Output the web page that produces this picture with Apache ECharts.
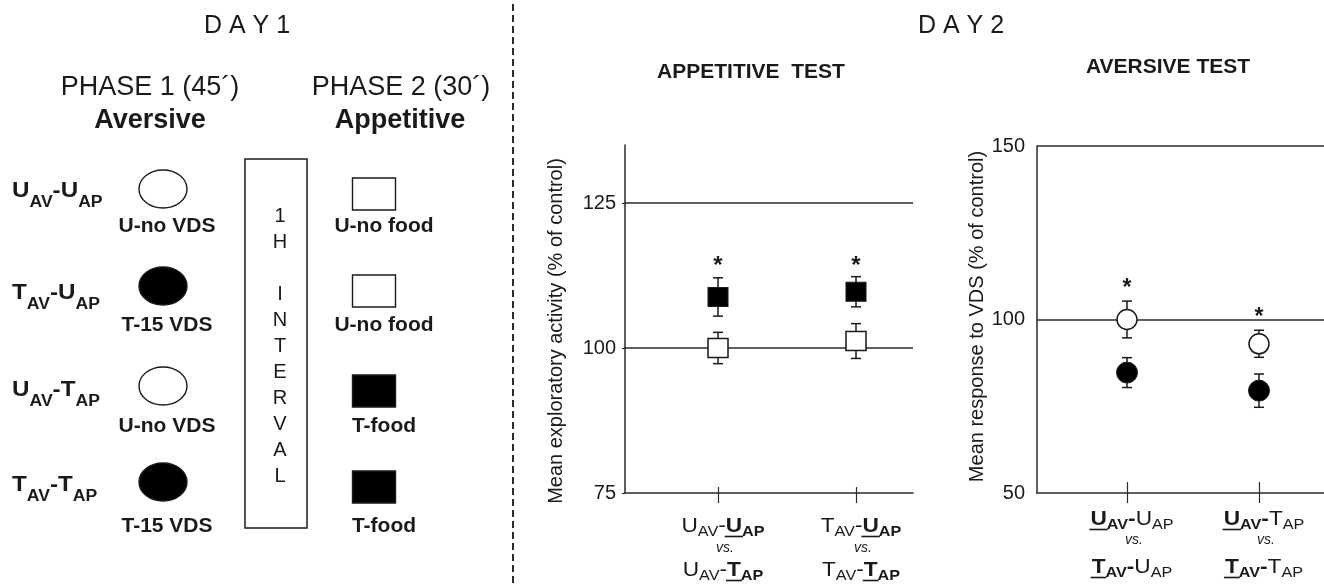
<!DOCTYPE html>
<html>
<head>
<meta charset="utf-8">
<script src="https://cdn.jsdelivr.net/npm/echarts@6/dist/echarts.min.js"></script>
<style>
  html, body { margin: 0; padding: 0; background: #fff; }
  #chart { width: 1324px; height: 585px; }
</style>
</head>
<body>
<div id="chart"></div>
<script>
// ---------- Day 2 results: group means and SEM (% of control) ----------
const catPos = [1, 2];                 // comparison pairs along the x axis
const appYTicks = [75, 100, 125];
const avYTicks = [50, 100, 150];
const appRefLines = [100, 125];
const avRefLines = [100, 150];

const appTrainedMean = [108.8, 109.7];   // filled squares (T_AP)
const appTrainedSem = [3.3, 2.6];
const appUntrainedMean = [100.0, 101.2]; // open squares (U_AP)
const appUntrainedSem = [2.7, 3.0];
const appStarLevel = [115.0, 115.0];

const avUntrainedMean = [100.0, 93.0];   // open circles (U_AV)
const avUntrainedSem = [5.3, 3.9];
const avTrainedMean = [84.7, 79.5];      // filled circles (T_AV)
const avTrainedSem = [4.3, 4.8];
const avStarLevel = [110.3, 102.0];

// comparison labels: [text, style] with r=regular, b=bold, u=underlined, s=subscript
const appCatLabels = [
  [[['U','r'],['AV','rs'],['-','r'],['U','bu'],['AP','bs']], 'vs.', [['U','r'],['AV','rs'],['-','r'],['T','bu'],['AP','bs']]],
  [[['T','r'],['AV','rs'],['-','r'],['U','bu'],['AP','bs']], 'vs.', [['T','r'],['AV','rs'],['-','r'],['T','bu'],['AP','bs']]]
];
const avCatLabels = [
  [[['U','bu'],['AV','bs'],['-','b'],['U','r'],['AP','rs']], 'vs.', [['T','bu'],['AV','bs'],['-','b'],['U','r'],['AP','rs']]],
  [[['U','bu'],['AV','bs'],['-','b'],['T','r'],['AP','rs']], 'vs.', [['T','bu'],['AV','bs'],['-','b'],['T','r'],['AP','rs']]]
];

// ---------- Day 1 protocol ----------
const groupLabels = [
  [['U','b'],['AV','bs'],['-','b'],['U','b'],['AP','bs']],
  [['T','b'],['AV','bs'],['-','b'],['U','b'],['AP','bs']],
  [['U','b'],['AV','bs'],['-','b'],['T','b'],['AP','bs']],
  [['T','b'],['AV','bs'],['-','b'],['T','b'],['AP','bs']]
];
const aversiveTraining = ['U-no VDS', 'T-15 VDS', 'U-no VDS', 'T-15 VDS'];
const aversiveFilled = [false, true, false, true];
const appetitiveTraining = ['U-no food', 'U-no food', 'T-food', 'T-food'];
const appetitiveFilled = [false, false, true, true];
const intervalText = ['1', 'H', '', 'I', 'N', 'T', 'E', 'R', 'V', 'A', 'L'];

// ---------- styling ----------
const FAM = '"Liberation Sans", Arial, Helvetica, sans-serif';
const INK = '#1a1a1a';
const LINE = '#2a2a2a';
const appXExt = { min: 0.326, max: 2.413 };
const avXExt = { min: 0.318, max: 2.644 };

const chart = echarts.init(document.getElementById('chart'), null, { renderer: 'canvas' });

function pairs(xs, ys, es) {
  return xs.map((x, i) => es ? [x, ys[i], es[i]] : [x, ys[i]]);
}

function xAxesFor(gridIndex, ext, innerLen) {
  return [
    {
      gridIndex, type: 'value', position: 'bottom', min: ext.min, max: ext.max,
      axisLine: { show: true, onZero: false, lineStyle: { color: LINE, width: 1.5 } },
      axisTick: { show: true, inside: false, length: 10, customValues: catPos, lineStyle: { color: LINE, width: 1.2 } },
      axisLabel: { show: false }, splitLine: { show: false }
    },
    {
      gridIndex, type: 'value', position: 'bottom', min: ext.min, max: ext.max,
      axisLine: { show: false },
      axisTick: { show: true, inside: true, length: innerLen, customValues: catPos, lineStyle: { color: LINE, width: 1.2 } },
      axisLabel: { show: false }, splitLine: { show: false }
    }
  ];
}

function errorBars(params, api) {
  const x = api.value(0), m = api.value(1), e = api.value(2);
  const top = api.coord([x, m + e]);
  const bot = api.coord([x, m - e]);
  const cap = 5;
  const st = { stroke: INK, lineWidth: 1.5 };
  return {
    type: 'group',
    children: [
      { type: 'line', shape: { x1: top[0], y1: top[1], x2: bot[0], y2: bot[1] }, style: st },
      { type: 'line', shape: { x1: top[0] - cap, y1: top[1], x2: top[0] + cap, y2: top[1] }, style: st },
      { type: 'line', shape: { x1: bot[0] - cap, y1: bot[1], x2: bot[0] + cap, y2: bot[1] }, style: st }
    ]
  };
}

function stars(size) {
  return function (params, api) {
    const c = api.coord([api.value(0), api.value(1)]);
    return {
      type: 'text', x: c[0], y: c[1] + 0.21 * size,
      style: { text: '*', font: 'bold ' + size + 'px ' + FAM, fill: INK, textAlign: 'center', textVerticalAlign: 'middle', verticalAlign: 'middle' }
    };
  };
}

function refLines(values) {
  return {
    silent: true, symbol: ['none', 'none'], label: { show: false },
    lineStyle: { color: LINE, width: 1.5, type: 'solid' },
    emphasis: { disabled: true },
    data: values.map(v => ({ yAxis: v }))
  };
}

const markerStyle = (fill, bw) => ({ color: fill, borderColor: INK, borderWidth: bw, opacity: 1 });

const option = {
  animation: false,
  backgroundColor: '#fff',
  grid: [
    { left: 625, top: 145, width: 288, height: 348, outerBoundsMode: 'none', containLabel: false },
    { left: 1037, top: 146, width: 307, height: 347, outerBoundsMode: 'none', containLabel: false }
  ],
  xAxis: [].concat(xAxesFor(0, appXExt, 6), xAxesFor(1, avXExt, 11)),
  yAxis: [
    {
      gridIndex: 0, type: 'value', min: 75, max: 135, interval: 25,
      name: 'Mean exploratory activity (% of control)', nameLocation: 'middle', nameRotate: 90, nameGap: 59,
      nameTextStyle: { fontSize: 20, color: INK, fontFamily: FAM, padding: [0, 24, 0, 0] },
      axisLine: { show: true, lineStyle: { color: LINE, width: 1.5 } },
      axisTick: { show: true, length: 3, customValues: appYTicks, lineStyle: { color: LINE, width: 1.2 } },
      axisLabel: { customValues: appYTicks, formatter: v => appYTicks.indexOf(v) >= 0 ? String(v) : '', fontSize: 20, color: INK, fontFamily: FAM, margin: 9 },
      splitLine: { show: false }
    },
    {
      gridIndex: 1, type: 'value', min: 50, max: 150, interval: 50,
      name: 'Mean response to VDS (% of control)', nameLocation: 'middle', nameRotate: 90, nameGap: 49,
      nameTextStyle: { fontSize: 20, color: INK, fontFamily: FAM, padding: [0, 0, 0, 6] },
      axisLine: { show: true, lineStyle: { color: LINE, width: 1.5 } },
      axisTick: { show: false },
      axisLabel: { customValues: avYTicks, formatter: v => avYTicks.indexOf(v) >= 0 ? String(v) : '', fontSize: 20, color: INK, fontFamily: FAM, margin: 12 },
      splitLine: { show: false }
    }
  ],
  series: [
    // ----- appetitive test -----
    {
      type: 'custom', xAxisIndex: 0, yAxisIndex: 0, z: 2, renderItem: errorBars,
      encode: { x: 0, y: 1 },
      data: pairs(catPos, appTrainedMean, appTrainedSem).concat(pairs(catPos, appUntrainedMean, appUntrainedSem)),
      markLine: refLines(appRefLines)
    },
    {
      type: 'scatter', xAxisIndex: 0, yAxisIndex: 0, z: 5, symbol: 'rect', symbolSize: [20, 19],
      itemStyle: markerStyle('#000', 1), emphasis: { disabled: true },
      data: pairs(catPos, appTrainedMean)
    },
    {
      type: 'scatter', xAxisIndex: 0, yAxisIndex: 0, z: 5, symbol: 'rect', symbolSize: [20, 19],
      itemStyle: markerStyle('#fff', 1.5), emphasis: { disabled: true },
      data: pairs(catPos, appUntrainedMean)
    },
    {
      type: 'custom', xAxisIndex: 0, yAxisIndex: 0, z: 6, renderItem: stars(24),
      encode: { x: 0, y: 1 }, data: pairs(catPos, appStarLevel)
    },
    // ----- aversive test -----
    {
      type: 'custom', xAxisIndex: 2, yAxisIndex: 1, z: 2, renderItem: errorBars,
      encode: { x: 0, y: 1 },
      data: pairs(catPos, avUntrainedMean, avUntrainedSem).concat(pairs(catPos, avTrainedMean, avTrainedSem)),
      markLine: refLines(avRefLines)
    },
    {
      type: 'scatter', xAxisIndex: 2, yAxisIndex: 1, z: 5, symbol: 'circle', symbolSize: 20,
      itemStyle: markerStyle('#fff', 1.5), emphasis: { disabled: true },
      data: pairs(catPos, avUntrainedMean)
    },
    {
      type: 'scatter', xAxisIndex: 2, yAxisIndex: 1, z: 5, symbol: 'circle', symbolSize: 21,
      itemStyle: markerStyle('#000', 1), emphasis: { disabled: true },
      data: pairs(catPos, avTrainedMean)
    },
    {
      type: 'custom', xAxisIndex: 2, yAxisIndex: 1, z: 6, renderItem: stars(23),
      encode: { x: 0, y: 1 }, data: pairs(catPos, avStarLevel)
    }
  ]
};

chart.setOption(option);

// ---------- text helpers (baseline-positioned) ----------
const measureCtx = document.createElement('canvas').getContext('2d');

function txt(text, x, baseline, size, weight, align, extra) {
  return Object.assign({
    type: 'text', x: x, y: baseline - 0.3465 * size,
    style: {
      text: text, font: weight + ' ' + size + 'px ' + FAM, fill: INK,
      textAlign: align || 'center', textVerticalAlign: 'middle', verticalAlign: 'middle'
    }
  }, extra || {});
}

// one line of mixed segments (subscripts, bold, underline)
function segLine(segs, x, baseline, o) {
  const parts = segs.map(([t, code]) => {
    const bold = code[0] === 'b';
    const sub = code.slice(-1) === 's';
    const under = code.slice(-1) === 'u';
    const size = sub ? o.sub : o.main;
    const font = (bold ? 'bold ' : 'normal ') + size + 'px ' + FAM;
    measureCtx.font = font;
    const w = measureCtx.measureText(t).width * o.sx;
    return { t, font, size, sub, under, w };
  });
  const total = parts.reduce((s, p) => s + p.w, 0);
  let cx = o.align === 'left' ? x : x - total / 2;
  const out = [];
  parts.forEach(p => {
    const b = baseline + (p.sub ? o.subDrop : 0);
    out.push({
      type: 'text', x: cx, y: b - 0.3465 * p.size, scaleX: o.sx,
      style: { text: p.t, font: p.font, fill: INK, textAlign: 'left', textVerticalAlign: 'middle', verticalAlign: 'middle' }
    });
    if (p.under) {
      out.push({
        type: 'line',
        shape: { x1: cx - 1, y1: baseline + 3.5, x2: cx + p.w + 1, y2: baseline + 3.5 },
        style: { stroke: INK, lineWidth: 1.6 }
      });
    }
    cx += p.w;
  });
  return out;
}

const g = [];

// headings
g.push(txt('D A Y 1', 247, 35, 25, 'normal'));
g.push(txt('D A Y 2', 961, 35, 25, 'normal'));
g.push({ type: 'line', shape: { x1: 513, y1: 4, x2: 513, y2: 585 }, style: { stroke: LINE, lineWidth: 2, lineDash: [7, 4] } });
g.push(txt('PHASE 1 (45\u00b4)', 150, 97, 27, 'normal'));
g.push(txt('Aversive', 150, 130, 27, 'bold'));
g.push(txt('PHASE 2 (30\u00b4)', 401, 97, 27, 'normal'));
g.push(txt('Appetitive', 400, 130, 27, 'bold'));
g.push(txt('APPETITIVE  TEST', 751, 79, 21, 'bold'));
g.push(txt('AVERSIVE TEST', 1168, 74, 21, 'bold'));

// day 1 protocol rows
const rowLabelBase = [199, 301, 398, 493];
const ellipseY = [189, 286, 386, 482];
const boxY = [194, 291, 391, 487];
const rowTextBase = [233, 332, 433, 533];
groupLabels.forEach((segs, i) => {
  segLine(segs, 12, rowLabelBase[i], { main: 22, sub: 16, subDrop: 9, sx: 1.1, align: 'left' }).forEach(e => g.push(e));
  g.push({
    type: 'ellipse', shape: { cx: 163, cy: ellipseY[i], rx: 24, ry: 19 },
    style: { fill: aversiveFilled[i] ? '#000' : '#fff', stroke: INK, lineWidth: 1.4 }
  });
  g.push(txt(aversiveTraining[i], 167, rowTextBase[i], 21, 'bold'));
  g.push({
    type: 'rect', shape: { x: 374 - 21.5, y: boxY[i] - 16, width: 43, height: 32 },
    style: { fill: appetitiveFilled[i] ? '#000' : '#fff', stroke: INK, lineWidth: 1.4 }
  });
  g.push(txt(appetitiveTraining[i], 384, rowTextBase[i], 21, 'bold'));
});

// 1 h interval box
g.push({ type: 'rect', shape: { x: 245, y: 159, width: 62, height: 369 }, style: { fill: 'none', stroke: INK, lineWidth: 1.5 } });
g.push({
  type: 'text', x: 280, y: 203,
  style: {
    text: intervalText.join('\n'), font: 'normal 20px ' + FAM, fill: INK, lineHeight: 26,
    textAlign: 'center', textVerticalAlign: 'top', verticalAlign: 'top'
  }
});

// comparison labels under each x tick
function catLabels(gridIndex, yMin, labels, bases) {
  labels.forEach((lab, i) => {
    const px = chart.convertToPixel({ gridIndex: gridIndex }, [catPos[i], yMin])[0] + 5;
    const o = { main: 21, sub: 15, subDrop: 4, sx: 1.08 };
    segLine(lab[0], px, bases[0], o).forEach(e => g.push(e));
    g.push(txt(lab[1], px + 2, bases[1], 14, 'italic'));
    segLine(lab[2], px, bases[2], o).forEach(e => g.push(e));
  });
}
catLabels(0, 75, appCatLabels, [533, 553, 577]);
catLabels(1, 50, avCatLabels, [526, 545, 574]);

chart.setOption({ graphic: g });
</script>
</body>
</html>
